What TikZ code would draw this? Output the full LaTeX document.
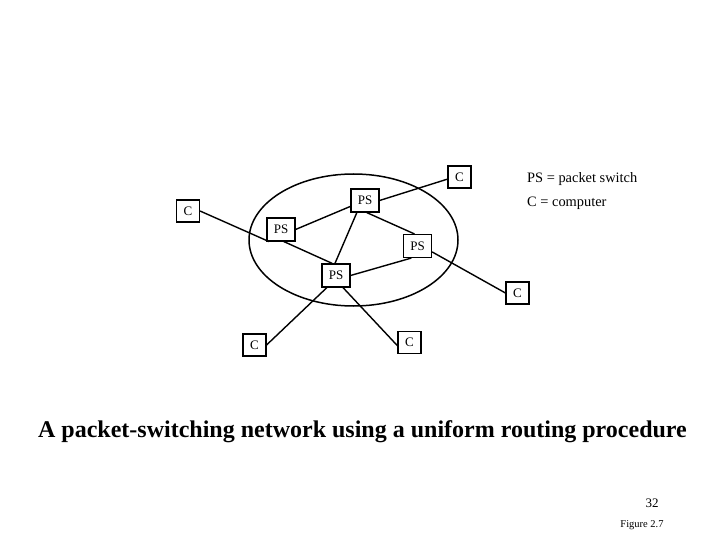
\documentclass[tikz,border=0pt]{standalone}
\usepackage{fontspec}
\setmainfont{Liberation Serif}
\begin{document}
\begin{tikzpicture}[x=1pt,y=-1pt,
  ps/.style={draw,line width=1.1pt,fill=white,minimum width=28pt,minimum height=23pt,inner sep=0pt,font=\fontsize{13}{13}\selectfont},
  cbox/.style={draw,line width=1.1pt,fill=white,minimum width=23pt,minimum height=22pt,inner sep=0pt,font=\fontsize{13}{13}\selectfont},
  link/.style={line width=1.4pt}]
\useasboundingbox (0,0) rectangle (720,540);
\draw[line width=1.5pt] (353.5,240) ellipse [x radius=104.5, y radius=66];
\node[ps] (pst) at (365,200.5) {PS};
\node[ps] (psl) at (281,229.5) {PS};
\node[ps] (psr) at (417.5,246) {PS};
\node[ps] (psb) at (336,275.5) {PS};
\node[cbox] (ctr) at (459.5,177) {C};
\node[cbox] (cl) at (188,211) {C};
\node[cbox] (cr) at (517.5,293) {C};
\node[cbox] (cbl) at (254.5,345) {C};
\node[cbox] (cbm) at (409.5,342.5) {C};
\draw[link] (pst.east) -- (ctr.190);
\draw[link] (cl.east) -- (psl.-135);
\draw[link] (psl.east) -- (pst.202);
\draw[link] (psl.-77) -- (psb.107);
\draw[link] (pst.-124) -- (psb.95);
\draw[link] (pst.-82) -- (psr.104);
\draw[link] (psb.east) -- (psr.-117);
\draw[link] (psr.-22) -- (cr.west);
\draw[link] (psb.-127) -- (cbl.east);
\draw[link] (psb.-60) -- (cbm.195);
\node[anchor=west,inner sep=0pt,font=\fontsize{14.4}{14.4}\selectfont] (leg1) at (527,179) {PS = packet switch};
\node[anchor=west,inner sep=0pt,font=\fontsize{14.4}{14.4}\selectfont] (leg2) at (527,203) {C = computer};
\node[anchor=base,inner sep=0pt,font=\fontsize{24}{24}\bfseries\selectfont] (title) at (362.5,437) {A packet-switching network using a uniform routing procedure};
\node[inner sep=0pt,font=\fontsize{13}{13}\selectfont] (pg) at (652,503) {32};
\node[inner sep=0pt,font=\fontsize{10.5}{10.5}\selectfont] (fig) at (642,525) {Figure 2.7};
\end{tikzpicture}
\end{document}
